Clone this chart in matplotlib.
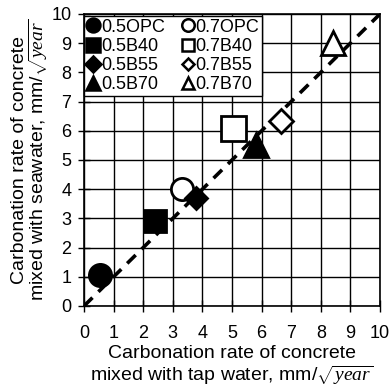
import matplotlib
matplotlib.use("Agg")
import matplotlib.pyplot as plt
from matplotlib.lines import Line2D

plt.rcParams['font.family'] = ['Liberation Sans', 'DejaVu Sans']
plt.rcParams['mathtext.fontset'] = 'custom'
plt.rcParams['mathtext.it'] = 'Liberation Serif:italic'
plt.rcParams['mathtext.rm'] = 'Liberation Serif'

labels = ['0.5OPC', '0.7OPC', '0.5B40', '0.7B40', '0.5B55', '0.7B55', '0.5B70', '0.7B70']
tap = [0.55, 3.3, 2.4, 5.05, 3.8, 6.65, 5.8, 8.4]
sea = [1.05, 4.0, 2.9, 6.1, 3.7, 6.35, 5.5, 9.0]
markers = ['o', 'o', 's', 's', 'D', 'D', '^', '^']
filled = [True, False, True, False, True, False, True, False]
sizes = [16, 16, 16, 18, 11, 12, 17, 17]
legend_sizes = [10, 9, 10, 9, 8, 6.5, 10, 9]
ticks = list(range(0, 11))

fig = plt.figure(figsize=(3.91, 3.88), dpi=100)
ax = fig.add_axes([84 / 391, 1 - 306 / 388, 296 / 391, 292 / 388])

ax.plot([0, 10], [0, 10], color='black', linestyle=(0, (3.3, 2.3)), linewidth=2.6, zorder=2)

handles = {}
for lab, x, y, m, f, s, ls in zip(labels, tap, sea, markers, filled, sizes, legend_sizes):
    fc = 'black' if f else 'white'
    ax.plot([x], [y], linestyle='none', marker=m, markersize=s,
            markerfacecolor=fc, markeredgecolor='black',
            markeredgewidth=2, zorder=3)
    handles[lab] = Line2D([], [], linestyle='none', marker=m, markersize=ls,
                          markerfacecolor=fc, markeredgecolor='black',
                          markeredgewidth=1.8, label=lab)

ax.set_xlim(0, 10)
ax.set_ylim(0, 10)
ax.set_xticks(ticks)
ax.set_yticks(ticks)
ax.grid(True, color='black', linewidth=1)
ax.set_axisbelow(True)
ax.tick_params(direction='inout', length=8, width=1, labelsize=13, color='black')
ax.tick_params(axis='x', pad=9.5)
ax.tick_params(axis='y', pad=5)
for sp in ax.spines.values():
    sp.set_linewidth(1.2)

ax.set_xlabel('Carbonation rate of concrete\nmixed with tap water, mm/$\\sqrt{year}$',
              fontsize=14, labelpad=2, linespacing=1.15)
ax.set_ylabel('Carbonation rate of concrete\nmixed with seawater, mm/$\\sqrt{year}$',
              fontsize=14, labelpad=1, linespacing=0.95)

order = ['0.5OPC', '0.5B40', '0.5B55', '0.5B70', '0.7OPC', '0.7B40', '0.7B55', '0.7B70']
leg = ax.legend([handles[k] for k in order], order, loc='upper left', ncol=2, fontsize=13,
                handlelength=0.7, handletextpad=0.1, columnspacing=0.9, labelspacing=0.12,
                borderpad=0.15, borderaxespad=0.0, bbox_to_anchor=(0.0, 0.993),
                fancybox=False, framealpha=1, edgecolor='black')
leg.get_frame().set_linewidth(1)

fig.savefig('out.png', dpi=100)
